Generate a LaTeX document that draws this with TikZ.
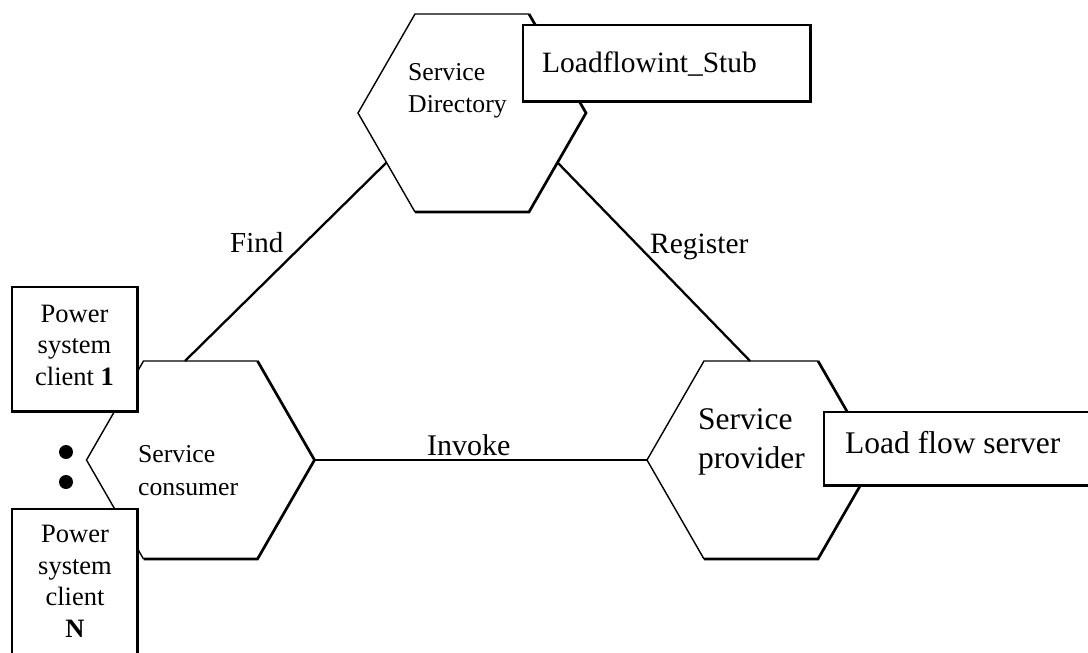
\documentclass[tikz,border=0pt]{standalone}
\usepackage{fontspec}
\setmainfont{Liberation Serif}
\usetikzlibrary{calc}

\tikzset{
  hexthin/.style={line width=1.4pt, line join=miter},
  hexthick/.style={line width=2.7pt, line join=miter},
  link/.style={line width=2.3pt},
  boxnode/.style={draw, line width=1.4pt, fill=white, inner sep=0pt},
  boxshade/.style={line width=2.2pt},
  lbl/.style={inner sep=0pt, anchor=base west, font=\fontsize{30}{36}\selectfont},
  biglbl/.style={inner sep=0pt, anchor=base west, font=\fontsize{31.5}{39}\selectfont},
  smalllbl/.style={inner sep=0pt, anchor=base west, align=left},
  clientlbl/.style={inner sep=0pt, anchor=base, align=center,
    font=\fontsize{26.5}{31.5}\selectfont},
  dotnode/.style={circle, fill=black, inner sep=0pt, minimum size=14pt}
}

% flat-topped hexagon: name, centre x, centre y
\newcommand\hexcell[3]{%
  \coordinate (#1) at (#2,#3);
  \coordinate (#1-w)  at (#2-114,#3);
  \coordinate (#1-nw) at (#2-57,#3-99);
  \coordinate (#1-ne) at (#2+57,#3-99);
  \coordinate (#1-e)  at (#2+114,#3);
  \coordinate (#1-se) at (#2+57,#3+99);
  \coordinate (#1-sw) at (#2-57,#3+99);
  \draw[hexthin] (#1-sw) -- (#1-w) -- (#1-nw) -- (#1-ne);
  \draw[hexthick] (#1-ne) -- (#1-e) -- (#1-se) -- (#1-sw);
}

\begin{document}
\begin{tikzpicture}[x=1pt, y=-1pt]
\useasboundingbox (0,0) rectangle (1088,653);
\clip (0,0) rectangle (1088,653);

% the three hexagonal roles
\hexcell{dir}{472}{113}
\hexcell{con}{200.5}{460}
\hexcell{prov}{761}{460}

% attachment points of the connectors
\coordinate (find-a) at ($(dir-w)!0.5!(dir-sw)$);
\coordinate (find-b) at ($(con-nw)!0.364!(con-ne)$);
\coordinate (reg-a)  at ($(dir-e)!0.5!(dir-se)$);
\coordinate (reg-b)  at ($(prov-nw)!0.404!(prov-ne)$);

\draw[link] (find-a) -- (find-b);
\draw[link] (reg-a) -- (reg-b);
\draw[link] (con-e) -- (prov-w);

% labels inside the hexagons (base = last line)
\node[smalllbl, font=\fontsize{25.7}{32}\selectfont] (dirtext) at (408,112) {Service\\Directory};
\node[smalllbl, font=\fontsize{25.7}{33}\selectfont] (context) at (138,495) {Service\\consumer};
\node[smalllbl, font=\fontsize{31.5}{39}\selectfont] (provtext) at (698,468) {Service\\provider};

% connector labels
\node[lbl, font=\fontsize{29}{35}\selectfont] (findlbl) at (230,252) {Find};
\node[lbl, font=\fontsize{29.5}{35}\selectfont] (reglbl) at (650,253) {Register};
\node[lbl] (invlbl) at (427,455) {Invoke};

% attached boxes
\node[boxnode, minimum width=287pt, minimum height=76pt] (stub) at (666.5,63) {};
\draw[boxshade] (stub.north east) -- (stub.south east) -- (stub.south west);
\node[lbl, font=\fontsize{29.5}{35}\selectfont] (stubtext) at (542,72) {Loadflowint\_Stub};

\node[boxnode, minimum width=290pt, minimum height=73pt] (server) at (969,448.5) {};
\draw[boxshade] (server.south east) -- (server.south west);
\node[biglbl] (servertext) at (845,453) {Load flow server};

\node[boxnode, minimum width=125pt, minimum height=124pt] (client1) at (74.5,349) {};
\draw[boxshade] (client1.north east) -- (client1.south east) -- (client1.south west);
\node[clientlbl] (client1text) at (74.5,385) {Power\\system\\client \textbf{1}};

\node[boxnode, minimum width=125pt, minimum height=170pt] (clientN) at (74.5,594) {};
\draw[boxshade] (clientN.north east) -- (clientN.south east);
\node[clientlbl] (clientNtext) at (75,637) {Power\\system\\client\\\textbf{N}};

% ellipsis between the clients
\node[dotnode] (dot1) at (66,452) {};
\node[dotnode] (dot2) at (66,482) {};
\end{tikzpicture}
\end{document}
